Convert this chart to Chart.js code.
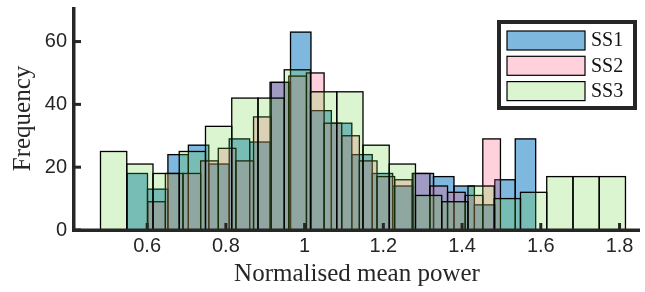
<!DOCTYPE html>
<html>
<head>
<meta charset="utf-8">
<script src="https://cdn.jsdelivr.net/npm/chart.js@4.4.0/dist/chart.umd.min.js"></script>
<style>
  html, body { margin: 0; padding: 0; background: #fff; overflow: hidden; }
  canvas { display: block; }
</style>
</head>
<body>
<canvas id="histograma" width="645" height="292"></canvas>
<script>
// counts per bin
const seriesNames = ['SS1', 'SS2', 'SS3'];
const ss1Counts = [18, 13, 24, 27, 21, 29, 28, 47, 63, 38, 34, 24, 18, 14, 18, 17, 14, 8, 16, 29];
const ss2Counts = [9, 18, 18, 22, 26, 22, 36, 47, 49, 50, 34, 30, 22, 17, 16, 18, 14, 12, 11, 29];
const ss3Counts = [25, 21, 18, 25, 33, 42, 42, 51, 44, 44, 27, 21, 11, 9, 14, 10, 12, 17, 17, 17];

// bin layout of each histogram (first edge, bin width)
const ss1Bins = [0.549, 0.0519];
const ss2Bins = [0.6015, 0.0448];
const ss3Bins = [0.4815, 0.06668];

const xTicks = [0.6, 0.8, 1, 1.2, 1.4, 1.6, 1.8];
const yTicks = [0, 20, 40, 60];

const cores = ['rgba(0,114,189,0.5)', 'rgba(255,71,115,0.25)', 'rgba(91,210,41,0.22)'];
const corEixo = '#262626';

function pontosBins(bins, counts) {
    return counts.map((c, i) => ({ x: bins[0] + bins[1] * (i + 0.5), y: c }));
}

const xMin = 0.4142, xMax = 1.852;

function eixoX(visivel) {
    return {
        type: 'linear',
        min: xMin,
        max: xMax,
        offset: false,
        display: visivel,
        grid: { display: false, drawTicks: false },
        border: { display: false },
        afterBuildTicks: scale => { scale.ticks = xTicks.map(v => ({ value: v })); },
        afterFit: scale => {
            scale.height = visivel ? 62 : 0;
            scale.paddingLeft = 0;
            scale.paddingRight = 0;
        },
        ticks: {
            autoSkip: false, maxRotation: 0, padding: 4, color: corEixo,
            font: { family: 'Liberation Sans', size: 20 },
            callback: v => String(v)
        },
        title: {
            display: visivel, text: 'Normalised mean power', color: corEixo,
            font: { family: 'Liberation Serif', size: 25 },
            padding: { top: 0, bottom: 3 }
        }
    };
}

// outlines drawn right after each dataset so upper fills tint them
const contornos = {
    id: 'contornos',
    afterDatasetDraw(chart, args) {
        const ctx = chart.ctx;
        ctx.save();
        ctx.strokeStyle = '#000';
        ctx.lineWidth = 1.3;
        args.meta.data.forEach(bar => {
            const w = bar.width;
            ctx.strokeRect(bar.x - w / 2, bar.y, w, bar.base - bar.y);
        });
        ctx.restore();
    }
};

const eixosLegenda = {
    id: 'eixosLegenda',
    afterDatasetsDraw(chart) {
        const ctx = chart.ctx;
        const area = chart.chartArea;
        const sx = chart.scales.x, sy = chart.scales.y;
        ctx.save();
        ctx.fillStyle = corEixo;
        ctx.fillRect(area.left - 2, area.top, 3.5, area.bottom - area.top + 1.5);
        ctx.fillRect(area.left - 2, area.bottom - 1.5, area.right - area.left + 2, 3.5);
        xTicks.forEach(v => {
            const px = sx.getPixelForValue(v);
            ctx.fillRect(px - 1.5, area.bottom - 7, 3, 6);
        });
        yTicks.forEach(v => {
            const py = sy.getPixelForValue(v);
            ctx.fillRect(area.left, py - 1.5, 7, 3);
        });

        // legend box
        const lx = 497, ly = 20, lw = 140, lh = 90;
        ctx.fillStyle = '#fff';
        ctx.fillRect(lx, ly, lw, lh);
        ctx.strokeStyle = corEixo;
        ctx.lineWidth = 4;
        ctx.strokeRect(lx + 2, ly + 2, lw - 4, lh - 4);
        ctx.font = '20px "Liberation Serif"';
        ctx.textBaseline = 'middle';
        ctx.textAlign = 'left';
        seriesNames.forEach((nome, i) => {
            const top = 31 + i * 25.3;
            ctx.fillStyle = cores[i];
            ctx.fillRect(507, top, 78, 19);
            ctx.strokeStyle = '#000';
            ctx.lineWidth = 1.2;
            ctx.strokeRect(507, top, 78, 19);
            ctx.fillStyle = '#111';
            ctx.fillText(nome, 591, top + 10);
        });
        ctx.restore();
    }
};

const datasetsBase = [ss1Counts, ss2Counts, ss3Counts];
const binsBase = [ss1Bins, ss2Bins, ss3Bins];
const eixosIds = ['xa', 'xb', 'x'];

const grafico = new Chart(document.getElementById('histograma'), {
    type: 'bar',
    data: {
        datasets: datasetsBase.map((counts, i) => ({
            label: seriesNames[i],
            data: pontosBins(binsBase[i], counts),
            xAxisID: eixosIds[i],
            backgroundColor: cores[i],
            borderWidth: 0,
            barPercentage: 1,
            categoryPercentage: 1,
            grouped: false,
            order: 3 - i
        }))
    },
    options: {
        responsive: false,
        animation: false,
        layout: { padding: { top: 7, right: 5, left: 0, bottom: 0 } },
        plugins: { legend: { display: false }, tooltip: { enabled: false } },
        scales: {
            x: eixoX(true),
            xa: eixoX(false),
            xb: eixoX(false),
            y: {
                min: 0,
                max: 71,
                grid: { display: false, drawTicks: false },
                border: { display: false },
                afterBuildTicks: scale => { scale.ticks = yTicks.map(v => ({ value: v })); },
                afterFit: scale => {
                    scale.width = 74;
                    scale.paddingTop = 0;
                    scale.paddingBottom = 0;
                },
                ticks: {
                    padding: 7, color: corEixo,
                    font: { family: 'Liberation Sans', size: 20 }
                },
                title: {
                    display: true, text: 'Frequency', color: corEixo,
                    font: { family: 'Liberation Serif', size: 25 },
                    padding: { top: 8, bottom: 0 }
                }
            }
        }
    },
    plugins: [contornos, eixosLegenda]
});
</script>
</body>
</html>
